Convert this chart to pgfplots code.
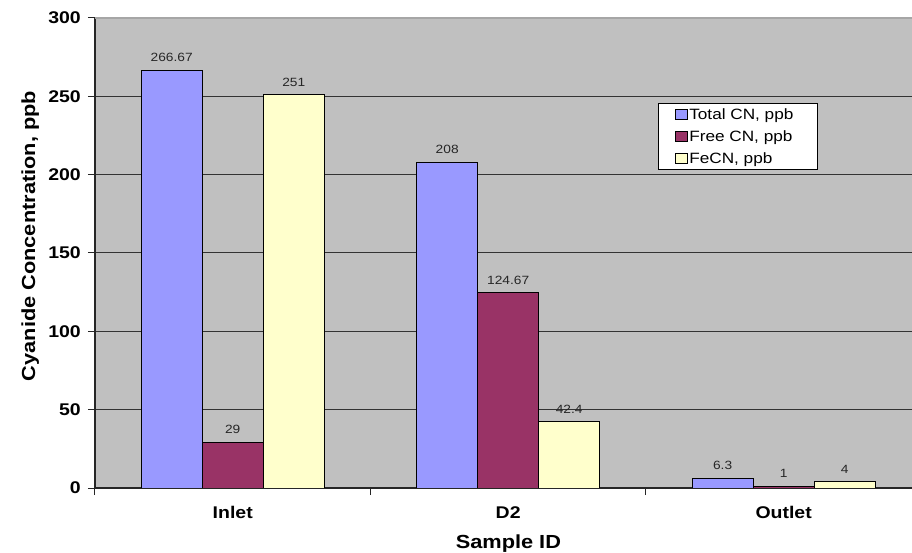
\documentclass[border=0pt]{standalone}
\usepackage{pgfplots}
\pgfplotsset{compat=1.18}
\usepackage{fontspec}
\setmainfont{Liberation Sans}[FakeStretch=1.15]
\definecolor{totcn}{HTML}{9999FF}
\definecolor{freecn}{HTML}{993366}
\definecolor{fecn}{HTML}{FFFFCC}
\definecolor{plotbg}{HTML}{C0C0C0}
\begin{document}
\begin{tikzpicture}
\begin{axis}[
 scale only axis, width=817bp, height=470bp,
 xmin=-0.5, xmax=2.466, ymin=0, ymax=300,
 ybar=0pt, bar width=61bp,
 /pgf/number format/assume math mode=true,
 /pgf/number format/.cd, fixed, precision=2, /pgfplots/.cd,
 axis background/.style={fill=plotbg},
 axis x line*=bottom, axis y line*=left,
 axis line style={-, line width=1.2bp, draw=black!85},
 xtick={-0.5,0.5,1.5}, xticklabels={},
 extra x ticks={0,1,2},
 extra x tick labels={Inlet,D2,Outlet},
 extra x tick style={major tick length=0pt, tick style={draw=none}},
 ytick={0,50,...,250},
 extra y ticks={300},
 extra y tick style={major grid style={draw=black!35, line width=1.5bp}},
 ymajorgrids, major grid style={draw=black!80, line width=1bp},
 tick align=outside, major tick length=7bp,
 tick style={draw=black!85, line width=1bp},
 ticklabel style={font=\fontsize{17}{17}\selectfont\bfseries},
 yticklabel style={anchor=east, inner sep=0pt, xshift=-7bp},
 xticklabel style={anchor=north, inner sep=0pt, yshift=-18bp},
 xlabel={Sample ID},
 ylabel={Cyanide Concentration, ppb},
 label style={font=\fontsize{19}{19}\selectfont\bfseries},
 xlabel style={at={(axis description cs:0.506,0)}, anchor=base, yshift=-60bp},
 ylabel style={at={(axis description cs:-0.0734,0.536)}, anchor=base},
 nodes near coords,
 every node near coord/.append style={font=\fontsize{12}{12}\selectfont, inner sep=0pt, anchor=south, yshift=8bp, text=black!85},
 legend style={at={(rel axis cs:0.689,0.819)}, anchor=north west, draw=black, line width=1bp, fill=white,
   font=\fontsize{15}{15}\selectfont, inner xsep=4bp, inner ysep=3bp, row sep=5.5bp, cells={anchor=west}},
 legend cell align=left,
]
\addplot[fill=totcn, draw=black, line width=1bp,
  legend image code/.code={\path (0bp,0bp); \draw[fill=totcn, draw=black, line width=0.8bp] (12bp,-5bp) rectangle (24bp,5bp);}]
  coordinates {(0,266.67) (1,208) (2,6.3)};
\addplot[fill=freecn, draw=black, line width=1bp,
  legend image code/.code={\path (0bp,0bp); \draw[fill=freecn, draw=black, line width=0.8bp] (12bp,-5bp) rectangle (24bp,5bp);}]
  coordinates {(0,29) (1,124.67) (2,1)};
\addplot[fill=fecn, draw=black, line width=1bp,
  legend image code/.code={\path (0bp,0bp); \draw[fill=fecn, draw=black, line width=0.8bp] (12bp,-5bp) rectangle (24bp,5bp);}]
  coordinates {(0,251) (1,42.4) (2,4)};
\legend{\makebox[122bp][l]{Total CN, ppb}, \makebox[122bp][l]{Free CN, ppb}, \makebox[122bp][l]{FeCN, ppb}}
\end{axis}
\pgfresetboundingbox
\path[use as bounding box] (current axis.south west) ++(-95bp,-65bp) rectangle ++(912bp,553bp);
\end{tikzpicture}
\end{document}
